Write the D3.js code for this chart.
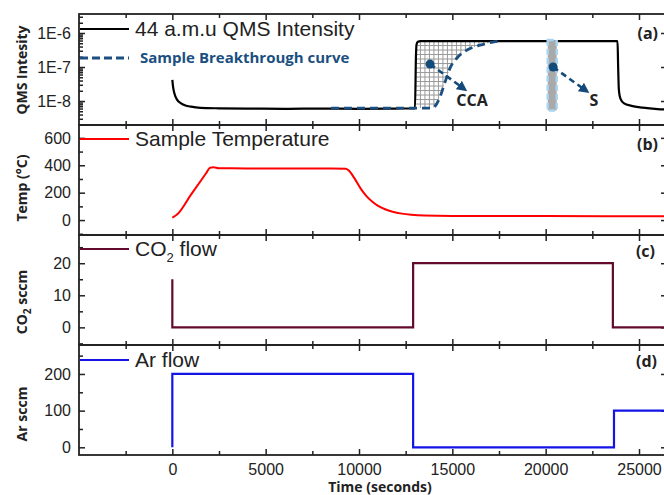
<!DOCTYPE html>
<html lang="en">
<head>
<meta charset="UTF-8">
<title>QMS breakthrough</title>
<script src="https://d3js.org/d3.v7.min.js"></script>
<style>
  body { margin: 0; background: #fff; }
  svg { font-family: "Liberation Sans", Arial, sans-serif; }
  .axis text { font-size: 16px; fill: #222; font-family: "Liberation Sans", Arial, sans-serif; }
  .axis line { stroke: #222; stroke-width: 1.5px; }
  .axis path { display: none; }
  .ylab, .xlab { font-family: "Open Sans", sans-serif; font-weight: bold; font-size: 14px; fill: #222; }
  .legend { font-size: 21px; fill: #222; }
  .panel-id { font-family: "Open Sans", sans-serif; font-weight: bold; font-size: 16px; fill: #222; }
  .note { font-family: "Open Sans", sans-serif; font-weight: bold; font-size: 16px; fill: #222; }
</style>
</head>
<body>
<div id="chart"></div>
<script>
// ---- data ----
var xTicks = [0, 5000, 10000, 15000, 20000, 25000];
var xMinor = [-2500, 2500, 7500, 12500, 17500, 22500];

// (a) 44 amu QMS intensity
var qmsTime  = [0, 40, 120, 250, 450, 700, 1000, 1500, 2500, 4000, 6000, 8000, 10000, 12000, 13000, 13050, 13080, 13150, 13300, 16000, 20000, 23850, 23880, 23920, 24000, 24200, 24600, 25200, 26000, 26500];
var qmsValue = [4.2e-8, 2.6e-8, 1.6e-8, 1.1e-8, 8.6e-9, 7.4e-9, 6.8e-9, 6.3e-9, 6.1e-9, 6.0e-9, 5.9e-9, 6.0e-9, 5.9e-9, 6.0e-9, 6.1e-9, 2.0e-7, 4.5e-7, 5.5e-7, 5.8e-7, 5.8e-7, 5.8e-7, 5.8e-7, 1.2e-7, 2.2e-8, 1.2e-8, 8.5e-9, 7.2e-9, 6.4e-9, 5.8e-9, 5.6e-9];
// sample breakthrough curve
var btTime  = [8500, 13960, 14073, 14341, 14609, 14877, 15252, 15788, 16484, 17181, 17663];
var btValue = [6.2e-9, 6.2e-9, 7.0e-9, 1.31e-8, 3.6e-8, 9.3e-8, 1.84e-7, 3.16e-7, 4.4e-7, 5.4e-7, 5.8e-7];
var sTime = [20110, 20590];          // S bar
var sValue = [5.3e-9, 6.2e-7];
var yTicksA = [1e-8, 1e-7, 1e-6];

// (b) sample temperature
var tempTime  = [0, 120, 250, 1000, 1800, 2020, 2200, 2500, 4000, 6000, 8000, 9300, 9500, 9800, 10100, 10400, 10700, 11000, 11400, 11800, 12300, 12800, 13500, 15000, 20000, 26500];
var tempValue = [17, 28, 40, 186, 340, 382, 385, 378, 377, 376, 376, 375, 355, 295, 228, 175, 136, 106, 79, 61, 47, 39, 33, 30, 29, 28];
var yTicksB = [0, 200, 400, 600];
var yMinorB = [-100, 100, 300, 500];

// (c) CO2 flow
var co2Time  = [0, 0, 12900, 12900, 23600, 23600, 26500];
var co2Value = [15, 0, 0, 20, 20, 0, 0];
var yTicksC = [0, 10, 20];
var yMinorC = [-5, 5, 15, 25];

// (d) Ar flow
var arTime  = [0, 0, 12900, 12900, 23660, 23660, 26500];
var arValue = [0, 200, 200, 0, 0, 100, 100];
var yTicksD = [0, 100, 200];
var yMinorD = [50, 150, 250];

// ---- layout ----
var W = 664, H = 495;
var left = 79, right = 667;
var panels = {
  a: { top: 14,  bottom: 125 },
  b: { top: 125, bottom: 235 },
  c: { top: 235, bottom: 345 },
  d: { top: 345, bottom: 455 }
};
var ink = "#222";

var svg = d3.select("#chart").append("svg")
  .attr("width", W).attr("height", H);

var x = d3.scaleLinear().domain([-5000, 26500]).range([left, right]);

var yA = d3.scaleLog().domain([1.97e-9, 3.62e-6]).range([panels.a.bottom, panels.a.top]);
var yB = d3.scaleLinear().domain([-109, 694]).range([panels.b.bottom, panels.b.top]);
var yC = d3.scaleLinear().domain([-5.5, 28.8]).range([panels.c.bottom, panels.c.top]);
var yD = d3.scaleLinear().domain([-21, 279]).range([panels.d.bottom, panels.d.top]);

// clip paths
Object.keys(panels).forEach(function(k) {
  var p = panels[k];
  svg.append("clipPath").attr("id", "clip-" + k)
    .append("rect").attr("x", left).attr("y", p.top)
    .attr("width", right - left).attr("height", p.bottom - p.top);
});

function drawFrame(k, y, major, minor, fmt, showX) {
  var p = panels[k];
  var g = svg.append("g");
  // x ticks, bottom & top, pointing inward
  g.append("g").attr("class", "axis")
    .attr("transform", "translate(0," + p.bottom + ")")
    .call(d3.axisBottom(x).tickValues(xTicks).tickSize(-6).tickSizeOuter(0).tickPadding(9)
      .tickFormat(showX ? d3.format("d") : ""));
  g.append("g").attr("class", "axis")
    .attr("transform", "translate(0," + p.bottom + ")")
    .call(d3.axisBottom(x).tickValues(xMinor).tickSize(-4).tickSizeOuter(0).tickFormat(""));
  g.append("g").attr("class", "axis")
    .attr("transform", "translate(0," + p.top + ")")
    .call(d3.axisTop(x).tickValues(xTicks).tickSize(-6).tickSizeOuter(0).tickFormat(""));
  g.append("g").attr("class", "axis")
    .attr("transform", "translate(0," + p.top + ")")
    .call(d3.axisTop(x).tickValues(xMinor).tickSize(-4).tickSizeOuter(0).tickFormat(""));
  // y ticks, left & right
  g.append("g").attr("class", "axis")
    .attr("transform", "translate(" + left + ",0)")
    .call(d3.axisLeft(y).tickValues(major).tickSize(-6).tickSizeOuter(0).tickPadding(8).tickFormat(fmt));
  g.append("g").attr("class", "axis")
    .attr("transform", "translate(" + left + ",0)")
    .call(d3.axisLeft(y).tickValues(minor).tickSize(-4).tickSizeOuter(0).tickFormat(""));
  g.append("g").attr("class", "axis")
    .attr("transform", "translate(" + right + ",0)")
    .call(d3.axisRight(y).tickValues(major).tickSize(-6).tickSizeOuter(0).tickFormat(""));
  // frame
  g.append("rect")
    .attr("x", left).attr("y", p.top)
    .attr("width", right - left).attr("height", p.bottom - p.top)
    .attr("fill", "none").attr("stroke", ink).attr("stroke-width", 1.8);
}

// minor log ticks for (a)
var minorA = [];
[1e-9, 1e-8, 1e-7, 1e-6].forEach(function(d) {
  for (var m = 2; m <= 9; m++) {
    var v = d * m;
    if (v > yA.domain()[0] && v < yA.domain()[1]) minorA.push(v);
  }
});

function expLabel(d) { return "1E" + Math.round(Math.log10(d)); }

drawFrame("a", yA, yTicksA, minorA, expLabel, false);
drawFrame("b", yB, yTicksB, yMinorB, d3.format("d"), false);
drawFrame("c", yC, yTicksC, yMinorC, d3.format("d"), false);
drawFrame("d", yD, yTicksD, yMinorD, d3.format("d"), true);

function pts(ts, vs) { return ts.map(function(t, i) { return [t, vs[i]]; }); }

// ---- panel (a) ----
var gA = svg.append("g").attr("clip-path", "url(#clip-a)");

// CCA hatched area between QMS step and breakthrough curve
var qTop = 5.8e-7, qStart = 13050;
var cca = [[qStart, btValue[1]], [qStart, qTop]]
  .concat([[btTime[btTime.length - 1], qTop]])
  .concat(pts(btTime, btValue).slice(1).reverse());
var ccaLine = d3.line().x(function(d) { return x(d[0]); }).y(function(d) { return yA(d[1]); })
  .curve(d3.curveLinear);
svg.append("clipPath").attr("id", "clip-cca")
  .append("path").attr("d", ccaLine(cca) + "Z");
var hatch = gA.append("g").attr("clip-path", "url(#clip-cca)");
var hx0 = x(qStart), hx1 = x(btTime[btTime.length - 1]);
var hy0 = yA(qTop), hy1 = yA(btValue[1]);
d3.range(hx0 + 4.5, hx1, 4.5).forEach(function(px) {
  hatch.append("line").attr("x1", px).attr("x2", px).attr("y1", hy0).attr("y2", hy1)
    .attr("stroke", "#999").attr("stroke-width", 1);
});
d3.range(hy0 + 4.5, hy1, 4.5).forEach(function(py) {
  hatch.append("line").attr("x1", hx0).attr("x2", hx1).attr("y1", py).attr("y2", py)
    .attr("stroke", "#999").attr("stroke-width", 1);
});

var lineA = d3.line().x(function(d) { return x(d[0]); }).y(function(d) { return yA(d[1]); })
  .curve(d3.curveMonotoneX);

gA.append("path").datum(pts(qmsTime, qmsValue))
  .attr("d", lineA).attr("fill", "none").attr("stroke", "#000").attr("stroke-width", 2.2);

gA.append("path").datum(pts(btTime, btValue))
  .attr("d", lineA).attr("fill", "none").attr("stroke", "#1b4f80").attr("stroke-width", 2.8)
  .attr("stroke-dasharray", "8,5");

// S bar (sits over the QMS trace)
gA.append("rect")
  .attr("x", x(sTime[0])).attr("width", x(sTime[1]) - x(sTime[0]))
  .attr("y", yA(sValue[1])).attr("height", yA(sValue[0]) - yA(sValue[1]))
  .attr("fill", "#a9a9a9").attr("stroke", "#a8d4f2").attr("stroke-width", 2.5)
  .attr("stroke-dasharray", "6,3");

// annotations
var noteBlue = "#134a7a";
svg.append("defs").append("marker")
  .attr("id", "arrow").attr("viewBox", "0 0 10 10").attr("refX", 5).attr("refY", 5)
  .attr("markerWidth", 4).attr("markerHeight", 4).attr("orient", "auto")
  .append("path").attr("d", "M0,0L10,5L0,10Z").attr("fill", noteBlue);

var notes = [
  { text: "CCA", t0: 13805, v0: 1.22e-7, t1: 15573, v1: 2.4e-8, tx: 472, ty: 106 },
  { text: "S",   t0: 20400, v0: 1.0e-7,  t1: 22115, v1: 2.1e-8, tx: 594, ty: 106 }
];
notes.forEach(function(n) {
  svg.append("line")
    .attr("x1", x(n.t0)).attr("y1", yA(n.v0)).attr("x2", x(n.t1)).attr("y2", yA(n.v1))
    .attr("stroke", noteBlue).attr("stroke-width", 2.6).attr("stroke-dasharray", "6,4")
    .attr("marker-end", "url(#arrow)");
  svg.append("circle").attr("cx", x(n.t0)).attr("cy", yA(n.v0)).attr("r", 4.5).attr("fill", noteBlue);
  svg.append("text").attr("class", "note").attr("x", n.tx).attr("y", n.ty)
    .attr("text-anchor", "middle").text(n.text);
});

// ---- panel (b) ----
svg.append("g").attr("clip-path", "url(#clip-b)")
  .append("path").datum(pts(tempTime, tempValue))
  .attr("d", d3.line().x(function(d) { return x(d[0]); }).y(function(d) { return yB(d[1]); })
    .curve(d3.curveMonotoneX))
  .attr("fill", "none").attr("stroke", "#ff0000").attr("stroke-width", 2);

// ---- panel (c) ----
svg.append("g").attr("clip-path", "url(#clip-c)")
  .append("path").datum(pts(co2Time, co2Value))
  .attr("d", d3.line().x(function(d) { return x(d[0]); }).y(function(d) { return yC(d[1]); }))
  .attr("fill", "none").attr("stroke", "#620a2c").attr("stroke-width", 2.2);

// ---- panel (d) ----
svg.append("g").attr("clip-path", "url(#clip-d)")
  .append("path").datum(pts(arTime, arValue))
  .attr("d", d3.line().x(function(d) { return x(d[0]); }).y(function(d) { return yD(d[1]); }))
  .attr("fill", "none").attr("stroke", "#1414e6").attr("stroke-width", 2.2);

// ---- legends ----
function legend(y, color, dash, width) {
  svg.append("line").attr("x1", left + 1).attr("x2", left + 50).attr("y1", y).attr("y2", y)
    .attr("stroke", color).attr("stroke-width", width).attr("stroke-dasharray", dash);
}
legend(29, "#000", null, 2.2);
svg.append("text").attr("class", "legend").attr("x", 135).attr("y", 36).text("44 a.m.u QMS Intensity");
legend(58, "#1b4f80", "8,4", 2.8);
svg.append("text").attr("x", 140).attr("y", 63)
  .style("font-family", "'Open Sans', sans-serif").style("font-weight", "bold")
  .style("font-size", "15px").style("fill", "#1b4f80").text("Sample Breakthrough curve");

legend(139, "#ff0000", null, 2.2);
svg.append("text").attr("class", "legend").attr("x", 135).attr("y", 146).text("Sample Temperature");

legend(249, "#620a2c", null, 2.2);
var co2t = svg.append("text").attr("class", "legend").attr("x", 135).attr("y", 256);
co2t.append("tspan").text("CO");
co2t.append("tspan").attr("dy", 6).style("font-size", "13px").text("2");
co2t.append("tspan").attr("dy", -6).text(" flow");

legend(360, "#1414e6", null, 2.2);
svg.append("text").attr("class", "legend").attr("x", 135).attr("y", 367).text("Ar flow");

// panel ids
[["(a)", 658, 39], ["(b)", 658, 150], ["(c)", 655, 257], ["(d)", 657, 367]].forEach(function(p) {
  svg.append("text").attr("class", "panel-id").attr("x", p[1]).attr("y", p[2])
    .attr("text-anchor", "end").text(p[0]);
});

// ---- axis titles ----
function ylab(cy, parts) {
  var t = svg.append("text").attr("class", "ylab")
    .attr("transform", "translate(27," + cy + ") rotate(-90)").attr("text-anchor", "middle");
  parts.forEach(function(p) {
    var s = t.append("tspan").text(p[0]);
    if (p[1]) s.attr("dy", p[1]);
    if (p[2]) s.style("font-size", p[2]);
  });
}
ylab(70, [["QMS Intesity"]]);
ylab(188, [["Temp (°C)"]]);
ylab(302, [["CO"], ["2", 4, "10px"], [" sccm", -4]]);
ylab(414, [["Ar sccm"]]);

svg.append("text").attr("class", "xlab").attr("x", 380).attr("y", 492)
  .attr("text-anchor", "middle").text("Time (seconds)");
</script>
</body>
</html>
